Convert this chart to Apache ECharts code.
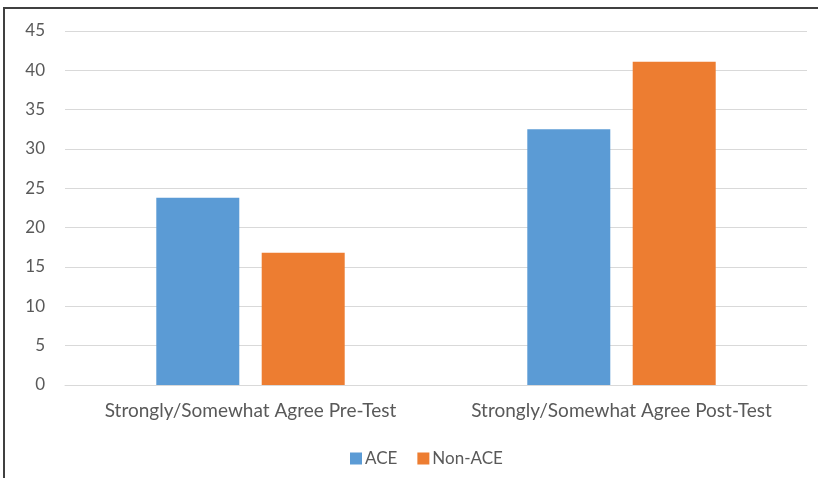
<!DOCTYPE html>
<html>
<head>
<meta charset="utf-8">
<style>
  html, body { margin: 0; padding: 0; background: #ffffff; }
  #chart { width: 818px; height: 478px; }
</style>
<script src="https://cdn.jsdelivr.net/npm/echarts@6/dist/echarts.min.js"></script>
</head>
<body>
<div id="chart"></div>
<script>
// Survey agreement, ACE vs non-ACE, before and after the test
const categories = ['Strongly/Somewhat Agree Pre-Test', 'Strongly/Somewhat Agree Post-Test'];
const aceValues = [23.8, 32.5];
const nonAceValues = [16.8, 41.1];
const seriesNames = ['ACE', 'Non-ACE'];

const FONT = 'Lato, "Open Sans", sans-serif';
const TEXT = '#595959';

const chart = echarts.init(document.getElementById('chart'));
chart.setOption({
  animation: false,
  textStyle: { fontFamily: FONT },
  grid: { left: 65, right: 11, top: 31, bottom: 93, containLabel: false },
  legend: {
    data: seriesNames,
    bottom: 6,
    left: 345,
    itemWidth: 12,
    itemHeight: 12,
    itemGap: 20,
    icon: 'rect',
    textStyle: { color: TEXT, fontSize: 17, fontFamily: FONT, padding: [0, 0, 0, -2] }
  },
  xAxis: {
    type: 'category',
    data: categories,
    axisTick: { show: false },
    axisLine: { lineStyle: { color: '#d9d9d9', width: 1 } },
    axisLabel: { color: TEXT, fontSize: 19, margin: 16, fontFamily: FONT, interval: 0 }
  },
  yAxis: {
    type: 'value',
    min: 0,
    max: 45,
    interval: 5,
    axisLine: { show: false },
    axisTick: { show: false },
    axisLabel: { color: TEXT, fontSize: 17, margin: 20, fontFamily: FONT },
    splitLine: { lineStyle: { color: '#d9d9d9', width: 1 } }
  },
  series: [
    {
      name: seriesNames[0],
      type: 'bar',
      data: aceValues,
      barWidth: 83,
      barGap: '27%',
      itemStyle: { color: '#5b9bd5' }
    },
    {
      name: seriesNames[1],
      type: 'bar',
      data: nonAceValues,
      barWidth: 83,
      barGap: '27%',
      itemStyle: { color: '#ed7d31' }
    }
  ],
  graphic: [
    { type: 'line', shape: { x1: 4, y1: 8, x2: 818, y2: 8 }, style: { stroke: '#404040', lineWidth: 2 } },
    { type: 'line', shape: { x1: 4, y1: 7, x2: 4, y2: 478 }, style: { stroke: '#404040', lineWidth: 2 } }
  ]
});
</script>
</body>
</html>
